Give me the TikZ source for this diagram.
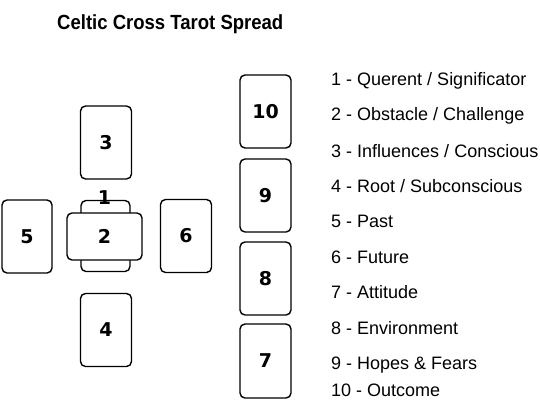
\documentclass[tikz,border=0pt]{standalone}
\usepackage{fontspec}
\setmainfont{Liberation Sans}
\newfontfamily\numfont{DejaVu Sans}
\begin{document}
\begin{tikzpicture}[x=1pt,y=-1pt,
  card/.style={draw, rounded corners=5pt, line width=1.4pt, fill=white, inner sep=0pt,
    minimum width=51pt, minimum height=73pt, font=\numfont\fontsize{19}{19}\selectfont\bfseries},
  num/.style={inner sep=0pt, font=\numfont\fontsize{19}{19}\selectfont\bfseries},
  item/.style={anchor=base west, inner sep=0pt, font=\fontsize{18}{18}\selectfont}]
\path[use as bounding box] (0,0) rectangle (540,400);
% title
\node[inner sep=0pt, anchor=base west] (title) at (57,29)
  {\scalebox{0.95}[1.05]{\fontsize{19.5}{19.5}\selectfont\bfseries Celtic Cross Tarot Spread}};
% cross
\node[card] (c3) at (106,142.5) {3};
\node[card] (c4) at (106,330) {4};
\node[card, minimum width=50pt] (c5) at (27,236.5) {5};
\node[card] (c6) at (186,236) {6};
\node[card, minimum width=49pt, minimum height=71pt] (c1) at (105.5,236) {};
\node[num] (l1) at (104.5,198) {1};
\node[card, minimum width=75pt, minimum height=47pt] (c2) at (104.5,236.5) {2};
% staff
\node[card] (c10) at (265.5,111.5) {10};
\node[card] (c9) at (265.5,195.5) {9};
\node[card] (c8) at (265.5,278.5) {8};
\node[card, minimum height=74pt] (c7) at (265.5,361) {7};
% legend
\node[item] (t1) at (331,85) {1 - Querent / Significator};
\node[item] (t2) at (331,120) {2 - Obstacle / Challenge};
\node[item] (t3) at (331,157) {3 - Influences / Conscious};
\node[item] (t4) at (331,192) {4 - Root / Subconscious};
\node[item] (t5) at (331,227) {5 - Past};
\node[item] (t6) at (331,263) {6 - Future};
\node[item] (t7) at (331,298) {7 - Attitude};
\node[item] (t8) at (331,334) {8 - Environment};
\node[item] (t9) at (331,369) {9 - Hopes \& Fears};
\node[item] (t10) at (331,396) {10 - Outcome};
\end{tikzpicture}
\end{document}
